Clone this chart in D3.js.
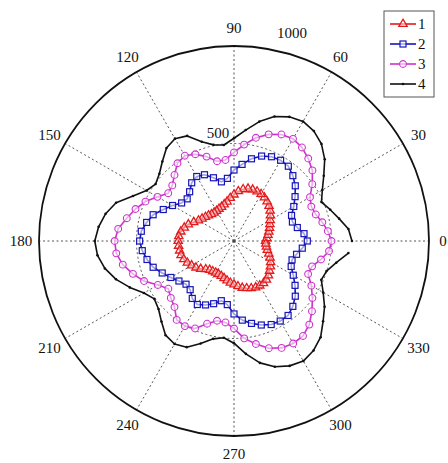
<!DOCTYPE html>
<html>
<head>
<meta charset="utf-8">
<script src="https://cdn.jsdelivr.net/npm/d3@7/dist/d3.min.js"></script>
<style>
  html, body { margin: 0; padding: 0; background: #fff; }
  svg { display: block; }
  text { font-family: "Liberation Serif", "DejaVu Serif", serif; fill: #111; }
</style>
</head>
<body>
<svg id="chart" width="448" height="463"></svg>
<script>
// ---------------- DATA ----------------
const seriesNames = ["1", "2", "3", "4"];
const angleTicks = [0, 30, 60, 90, 120, 150, 180, 210, 240, 270, 300, 330];
const radialTicks = [500, 1000];
const radialMax = 1000;

// series 1 (red, triangles) every 5 degrees
const angles1 = d3.range(0, 360, 5);
const values1 = [162,169,177,185,194,203,214,228,242,254,264,272,278,280,280,278,269,256,
                 238,221,205,194,186,182,178,177,179,185,191,200,210,228,249,264,277,284,
                 286,285,283,281,274,264,251,238,223,205,194,190,188,188,191,197,206,215,
                 223,233,244,251,258,263,264,264,259,250,238,228,217,204,190,177,169,164];

// series 2 (blue, squares) every 6 degrees
const angles2 = d3.range(0, 360, 6);
const values2 = [376,361,332,315,323,354,387,423,451,474,478,473,458,431,395,364,323,310,
                 341,372,382,369,340,323,332,364,397,436,458,478,484,473,456,436,403,374,
                 349,331,336,364,376,359,338,313,328,374,408,432,453,469,474,472,451,423,
                 387,351,321,313,328,352];

// series 3 (magenta, circles) every 6 degrees
const angles3 = d3.range(0, 360, 6);
const values3 = [500,484,463,441,434,450,496,541,569,593,605,598,575,541,497,454,418,418,
                 455,487,505,493,456,426,417,453,497,531,562,597,612,607,583,545,505,451,
                 416,436,456,500,504,491,446,418,420,449,502,540,578,600,607,602,577,538,
                 497,458,416,421,456,490];

// series 4 (black, dots) every 6 degrees, open at 0/360
const angles4 = d3.range(0, 360, 6);
const values4 = [605,590,551,519,491,523,569,626,670,697,708,697,671,626,572,527,495,504,
                 535,590,606,589,549,515,497,518,567,636,673,698,714,704,677,636,585,533,
                 505,521,556,597,610,596,553,513,499,524,582,639,678,701,711,694,664,615,
                 574,528,490,499,536,590];

// ---------------- LAYOUT ----------------
const svg = d3.select("#chart");
const cx = 234, cy = 241, R = 195;
const rScale = d3.scaleLinear().domain([0, radialMax]).range([0, R]);
const aScale = d3.scaleLinear().domain([0, 360]).range([Math.PI / 2, Math.PI / 2 - 2 * Math.PI]);

const g = svg.append("g").attr("transform", `translate(${cx},${cy})`);

// spokes
g.selectAll("line.spoke").data(angleTicks).enter().append("line")
  .attr("class", "spoke")
  .attr("x1", 0).attr("y1", 0)
  .attr("x2", d => rScale(radialMax) * Math.sin(aScale(d)))
  .attr("y2", d => -rScale(radialMax) * Math.cos(aScale(d)))
  .attr("stroke", "#444").attr("stroke-width", 0.9).attr("stroke-dasharray", "2,2.5");

// dotted inner ring
g.selectAll("circle.ring").data(radialTicks.filter(d => d < radialMax)).enter().append("circle")
  .attr("class", "ring").attr("r", d => rScale(d))
  .attr("fill", "none").attr("stroke", "#444").attr("stroke-width", 0.9).attr("stroke-dasharray", "2,2.5");

// outer circle
g.append("circle").attr("r", rScale(radialMax))
  .attr("fill", "none").attr("stroke", "#111").attr("stroke-width", 1.8);

// angle labels
g.selectAll("text.ang").data(angleTicks).enter().append("text")
  .attr("class", "ang")
  .attr("x", d => (d === 0 ? 209 : 213) * Math.sin(aScale(d)))
  .attr("y", d => -213 * Math.cos(aScale(d)))
  .attr("text-anchor", "middle").attr("dominant-baseline", "central")
  .attr("font-size", 15)
  .text(d => d);

// radial labels
const radialLabelPos = { 500: [-16, -108], 1000: [58, -208] };
g.selectAll("text.rad").data(radialTicks).enter().append("text")
  .attr("class", "rad")
  .attr("x", d => radialLabelPos[d][0])
  .attr("y", d => radialLabelPos[d][1])
  .attr("text-anchor", "middle").attr("dominant-baseline", "central")
  .attr("font-size", 15)
  .text(d => d);

// ---------------- SERIES ----------------
const series = [
  { name: seriesNames[0], a: angles1, v: values1, color: "#e31a1c", marker: "tri", closed: true, w: 1.7 },
  { name: seriesNames[1], a: angles2, v: values2, color: "#1515b8", marker: "sq", closed: true, w: 1.6 },
  { name: seriesNames[2], a: angles3, v: values3, color: "#cc33cc", marker: "circ", closed: true, w: 1.6 },
  { name: seriesNames[3], a: angles4, v: values4, color: "#111111", marker: "dot", closed: false, w: 1.6 }
];

const radialLine = d3.lineRadial().angle(d => aScale(d[0])).radius(d => rScale(d[1]));

function drawMarker(sel, type, color) {
  if (type === "tri") {
    sel.append("path").attr("d", d3.symbol(d3.symbolTriangle, 30)())
      .attr("fill", "#fff").attr("fill-opacity", 0.5).attr("stroke", color).attr("stroke-width", 1.3);
  } else if (type === "sq") {
    sel.append("rect").attr("x", -3).attr("y", -3).attr("width", 6).attr("height", 6)
      .attr("fill", "#fff").attr("fill-opacity", 0.6).attr("stroke", color).attr("stroke-width", 1.2);
  } else if (type === "circ") {
    sel.append("circle").attr("r", 3.4)
      .attr("fill", "#fff").attr("fill-opacity", 0.6).attr("stroke", color).attr("stroke-width", 1.1);
  } else {
    sel.append("circle").attr("r", 1.3).attr("fill", color);
  }
}

series.forEach(s => {
  const pts = s.a.map((a, i) => [a, s.v[i]]);
  const linePts = s.closed ? pts.concat([pts[0]]) : pts;
  g.append("path").datum(linePts)
    .attr("d", radialLine)
    .attr("fill", "none").attr("stroke", s.color).attr("stroke-width", s.w)
    .attr("stroke-linejoin", "round");
  const m = g.append("g").selectAll("g").data(pts).enter().append("g")
    .attr("transform", d => `translate(${rScale(d[1]) * Math.sin(aScale(d[0]))},${-rScale(d[1]) * Math.cos(aScale(d[0]))})`);
  drawMarker(m, s.marker, s.color);
});

// ---------------- LEGEND ----------------
const lg = svg.append("g").attr("transform", "translate(384,11)");
lg.append("rect").attr("x", 0).attr("y", 0).attr("width", 50).attr("height", 86)
  .attr("fill", "#fff").attr("stroke", "#555").attr("stroke-width", 1);
series.forEach((s, i) => {
  const y = 13 + i * 20;
  const row = lg.append("g").attr("transform", `translate(0,${y})`);
  row.append("line").attr("x1", 6).attr("x2", 32).attr("y1", 0).attr("y2", 0)
    .attr("stroke", s.color).attr("stroke-width", 1.6);
  const mk = row.append("g").attr("transform", "translate(19,0)");
  drawMarker(mk, s.marker, s.color);
  row.append("text").attr("x", 34).attr("y", 0).attr("dominant-baseline", "central")
    .attr("font-size", 15).text(s.name);
});
</script>
</body>
</html>
